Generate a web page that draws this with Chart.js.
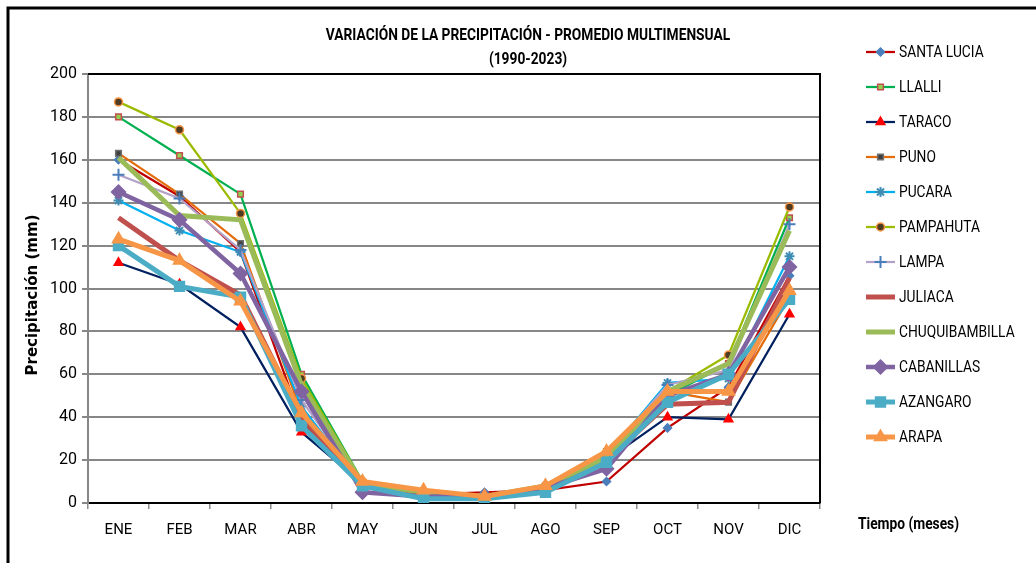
<!DOCTYPE html>
<html>
<head>
<meta charset="utf-8">
<script src="https://cdn.jsdelivr.net/npm/chart.js@4.4.0/dist/chart.umd.min.js"></script>
<style>
  body { margin: 0; background: #fff; }
  #wrap { width: 1036px; height: 563px; }
</style>
</head>
<body>
<div id="wrap"><canvas id="chart" width="1036" height="563"></canvas></div>
<script>
var months = ['ENE', 'FEB', 'MAR', 'ABR', 'MAY', 'JUN', 'JUL', 'AGO', 'SEP', 'OCT', 'NOV', 'DIC'];
var yTicks = [0, 20, 40, 60, 80, 100, 120, 140, 160, 180, 200];

var santaLucia     = [160, 143, 117, 38, 8, 4, 5, 6, 10, 35, 54, 106];
var llalli         = [180, 162, 144, 60, 10, 4, 3, 8, 22, 50, 65, 133];
var taraco         = [112, 102, 82, 33, 9, 3, 3, 7, 20, 40, 39, 88];
var puno           = [163, 144, 121, 42, 9, 4, 3, 7, 24, 52, 47, 96];
var pucara         = [141, 127, 117, 45, 8, 4, 3, 7, 22, 56, 58, 115];
var pampahuta      = [187, 174, 135, 58, 10, 5, 3, 8, 23, 52, 69, 138];
var lampa          = [153, 142, 118, 48, 8, 4, 3, 7, 22, 55, 62, 130];
var juliaca        = [133, 113, 97, 40, 9, 4, 3, 6, 20, 46, 47, 105];
var chuquibambilla = [161, 134, 132, 55, 9, 5, 3, 8, 21, 52, 65, 127];
var cabanillas     = [145, 132, 107, 52, 5, 3, 3, 7, 16, 50, 60, 110];
var azangaro       = [120, 101, 96, 36, 8, 2, 2, 5, 19, 47, 60, 95];
var arapa          = [123, 113, 94, 42, 10, 6, 3, 8, 24, 52, 52, 99];

var FONT = "'Roboto', sans-serif";

// line colour, width, marker style, marker fill, marker border, marker radius
var series = [
  ['SANTA LUCIA', santaLucia, '#C00000', 2.25, 'rectRot', '#4A7EBB', '#4A7EBB', 4],
  ['LLALLI', llalli, '#00B050', 2.25, 'rect', '#92D050', '#C0504D', 4],
  ['TARACO', taraco, '#002060', 2.25, 'triangle', '#FF0000', '#FF0000', 5],
  ['PUNO', puno, '#E46C0A', 2.25, 'rect', '#3F3F3F', '#6F6F6F', 4],
  ['PUCARA', pucara, '#00B0F0', 2.25, 'star', '#3E8DB5', '#3E8DB5', 5],
  ['PAMPAHUTA', pampahuta, '#9BBB00', 2.25, 'circle', '#4F3B22', '#F79646', 4],
  ['LAMPA', lampa, '#B3A2C7', 2.25, 'cross', '#4A7EBB', '#4A7EBB', 6],
  ['JULIACA', juliaca, '#C0504D', 5, false, '#C0504D', '#C0504D', 0],
  ['CHUQUIBAMBILLA', chuquibambilla, '#9BBB59', 5, false, '#9BBB59', '#9BBB59', 0],
  ['CABANILLAS', cabanillas, '#8064A2', 4.5, 'rectRot', '#8064A2', '#8064A2', 7],
  ['AZANGARO', azangaro, '#4BACC6', 5, 'rect', '#4BACC6', '#4BACC6', 7],
  ['ARAPA', arapa, '#F79646', 5, 'triangle', '#F79646', '#F79646', 7]
];

var datasets = series.map(function (s, i) {
  return {
    label: s[0],
    data: s[1],
    borderColor: s[2],
    borderWidth: s[3],
    pointStyle: s[4],
    pointBackgroundColor: s[5],
    pointBorderColor: s[6],
    pointBorderWidth: s[4] === 'star' || s[4] === 'cross' ? 2 : 1.5,
    pointRadius: s[7],
    pointHoverRadius: s[7],
    tension: 0,
    fill: false,
    order: series.length - i
  };
});

// text squeezed sideways, like the narrow font of the original
function narrowText(ctx, text, x, y, sx) {
  ctx.save();
  ctx.translate(x, y);
  ctx.scale(sx, 1);
  ctx.fillText(text, 0, 0);
  ctx.restore();
}

var decor = {
  id: 'decor',
  afterDraw: function (chart) {
    var ctx = chart.ctx, a = chart.chartArea;
    ctx.save();
    // outer frame
    ctx.strokeStyle = '#000';
    ctx.lineWidth = 3;
    ctx.beginPath();
    ctx.moveTo(8, 563); ctx.lineTo(8, 8); ctx.lineTo(1036, 8);
    ctx.stroke();
    // plot area top / right edges
    ctx.lineWidth = 2;
    ctx.beginPath();
    ctx.moveTo(a.left, a.top); ctx.lineTo(a.right, a.top); ctx.lineTo(a.right, a.bottom);
    ctx.stroke();

    // title
    ctx.fillStyle = '#000';
    ctx.textAlign = 'center';
    ctx.textBaseline = 'middle';
    ctx.font = 'bold 16px ' + FONT;
    narrowText(ctx, 'VARIACIÓN DE LA PRECIPITACIÓN - PROMEDIO MULTIMENSUAL', 528, 36, 0.86);
    narrowText(ctx, '(1990-2023)', 528, 60, 0.86);

    // axis titles
    ctx.textAlign = 'left';
    ctx.font = 'bold 16px ' + FONT;
    narrowText(ctx, 'Tiempo (meses)', 858, 525, 0.86);
    ctx.save();
    ctx.translate(33, 295);
    ctx.rotate(-Math.PI / 2);
    ctx.textAlign = 'center';
    ctx.font = "bold 15px 'DejaVu Sans', sans-serif";
    ctx.fillText('Precipitación (mm)', 0, 0);
    ctx.restore();

    // legend: line with marker
    chart.data.datasets.forEach(function (ds, i) {
      var y = 52 + i * 35;
      ctx.strokeStyle = ds.borderColor;
      ctx.lineWidth = ds.borderWidth;
      ctx.lineCap = 'butt';
      ctx.beginPath();
      ctx.moveTo(866, y); ctx.lineTo(895, y);
      ctx.stroke();
      if (ds.pointStyle) {
        ctx.fillStyle = ds.pointBackgroundColor;
        ctx.strokeStyle = ds.pointBorderColor;
        ctx.lineWidth = ds.pointBorderWidth;
        Chart.helpers.drawPoint(ctx, {
          pointStyle: ds.pointStyle,
          radius: ds.pointRadius,
          rotation: 0,
          borderWidth: ds.pointBorderWidth
        }, 880.5, y);
      }
      ctx.fillStyle = '#000';
      ctx.textAlign = 'left';
      ctx.font = '16px ' + FONT;
      narrowText(ctx, ds.label, 899, y + 1, 0.86);
    });
    ctx.restore();
  }
};

new Chart(document.getElementById('chart').getContext('2d'), {
  type: 'line',
  data: { labels: months, datasets: datasets },
  plugins: [decor],
  options: {
    responsive: false,
    animation: false,
    layout: { padding: { top: 74, right: 216, left: 0, bottom: 0 } },
    plugins: {
      legend: { display: false },
      title: { display: false },
      tooltip: { enabled: false }
    },
    scales: {
      x: {
        offset: true,
        grid: { offset: true, drawOnChartArea: false, color: '#8C8C8C', lineWidth: 1.5, tickLength: 6 },
        border: { color: '#000', width: 2 },
        ticks: { color: '#000', padding: 12, font: { family: FONT, size: 15 }, maxRotation: 0 },
        afterFit: function (scale) { scale.height = 60; }
      },
      y: {
        min: 0,
        max: 200,
        afterBuildTicks: function (scale) {
          scale.ticks = yTicks.map(function (v) { return { value: v }; });
        },
        grid: { color: '#878787', lineWidth: 2, tickLength: 6 },
        border: { color: '#878787', width: 2 },
        ticks: { color: '#000', padding: 5, font: { family: FONT, size: 16 } },
        afterFit: function (scale) { scale.width = 88; }
      }
    }
  }
});
</script>
</body>
</html>
